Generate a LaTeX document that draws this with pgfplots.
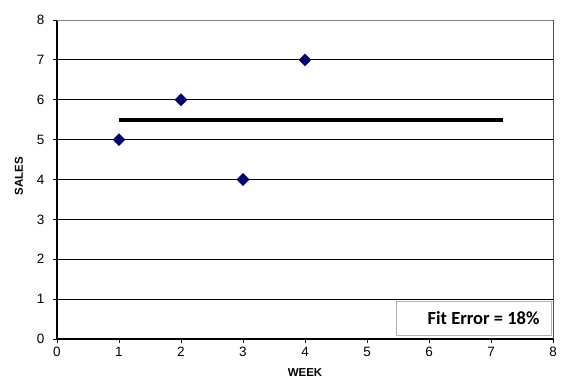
\documentclass[border=0pt]{standalone}
\usepackage{pgfplots}
\pgfplotsset{compat=1.18}
\usepackage{fontspec}
\setmainfont{Liberation Sans}
\newfontfamily\carlito{Carlito}
\begin{document}
\begin{tikzpicture}[x=1bp,y=1bp]
\useasboundingbox (0,0) rectangle (567,382);
\begin{axis}[
  at={(57bp,43bp)}, anchor=south west,
  scale only axis, width=496bp, height=319bp,
  xmin=0, xmax=8, ymin=0, ymax=8,
  xtick={0,...,8}, ytick={0,...,8},
  axis x line*=bottom, axis y line*=left,
  axis line style={-, black, line width=1.2bp},
  ymajorgrids, grid style={black, line width=1bp},
  tick style={black, line width=1bp},
  tick align=outside, major tick length=4bp,
  /pgf/number format/assume math mode=true,
  tick label style={font=\fontsize{13.5bp}{15bp}\selectfont},
  xticklabel style={yshift=-1bp},
  yticklabel style={xshift=-5bp},
  xlabel={\textbf{WEEK}}, ylabel={\textbf{SALES}},
  label style={font=\fontsize{11.5bp}{13bp}\selectfont},
  xlabel style={at={(axis description cs:0.5,-0.1066)}, anchor=center},
  ylabel style={at={(axis description cs:-0.0766,0.511)}, anchor=center},
  clip=false,
]
\draw[gray, line width=1bp] (axis cs:0,8) -- (axis cs:8,8);
\draw[black!70, line width=1bp] (axis cs:8,0) -- (axis cs:8,8);
\addplot[black, line width=4bp] coordinates {(1,5.5) (7.2,5.5)};
\addplot[only marks, mark=square*, mark size=4.3bp, mark options={rotate=45, fill=black!10!blue!50!black, draw=black!10!blue!50!black}] coordinates {(1,5) (2,6) (3,4) (4,7)};
\draw[gray!60, line width=1bp, fill=white] (axis cs:5.47,0.1) rectangle (axis cs:7.98,0.95);
\node[anchor=east, font=\carlito\bfseries\fontsize{18.5bp}{20bp}\selectfont] at (axis cs:7.84,0.52) {Fit Error = 18\%};
\end{axis}
\end{tikzpicture}
\end{document}
